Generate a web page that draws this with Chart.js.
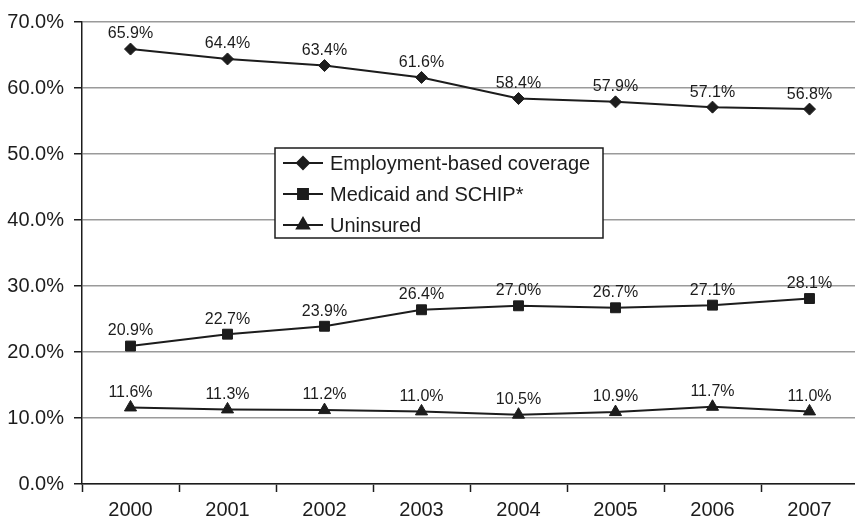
<!DOCTYPE html>
<html>
<head>
<meta charset="utf-8">
<script src="https://cdn.jsdelivr.net/npm/chart.js@4/dist/chart.umd.min.js"></script>
<style>
  html, body { margin: 0; padding: 0; background: #fff; overflow: hidden; }
  #wrap { width: 866px; height: 521px; position: relative; }
</style>
</head>
<body>
<div id="wrap"><canvas id="coverageChart"></canvas></div>
<script>
// chart values
const years = ['2000', '2001', '2002', '2003', '2004', '2005', '2006', '2007'];
const employmentBased = [65.9, 64.4, 63.4, 61.6, 58.4, 57.9, 57.1, 56.8];
const medicaidSchip = [20.9, 22.7, 23.9, 26.4, 27.0, 26.7, 27.1, 28.1];
const uninsured = [11.6, 11.3, 11.2, 11.0, 10.5, 10.9, 11.7, 11.0];
const seriesNames = ['Employment-based coverage', 'Medicaid and SCHIP*', 'Uninsured'];
const yTicks = [0, 10, 20, 30, 40, 50, 60, 70];

const ink = '#1c1c1c';
const fontFamily = '"Liberation Sans", Arial, Helvetica, sans-serif';

function makeSeries(label, data, shape, radius) {
  return {
    label: label,
    data: data,
    borderColor: ink,
    backgroundColor: ink,
    borderWidth: 2,
    pointStyle: shape,
    pointRadius: radius,
    pointHoverRadius: radius,
    pointBorderWidth: 1,
    tension: 0
  };
}

// value labels above each point
const valueLabels = {
  id: 'valueLabels',
  afterDatasetsDraw(chart) {
    const ctx = chart.ctx;
    ctx.save();
    ctx.font = '16px ' + fontFamily;
    ctx.fillStyle = ink;
    ctx.textAlign = 'center';
    ctx.textBaseline = 'middle';
    chart.data.datasets.forEach((ds, i) => {
      chart.getDatasetMeta(i).data.forEach((pt, j) => {
        ctx.fillText(ds.data[j].toFixed(1) + '%', pt.x, pt.y - 15);
      });
    });
    ctx.restore();
  }
};

// boxed legend sitting inside the plot
const boxLegend = {
  id: 'boxLegend',
  afterDatasetsDraw(chart) {
    const ctx = chart.ctx;
    const left = 275, top = 148, w = 328, h = 90;
    ctx.save();
    ctx.fillStyle = '#fff';
    ctx.fillRect(left, top, w, h);
    ctx.strokeStyle = ink;
    ctx.lineWidth = 1.5;
    ctx.strokeRect(left, top, w, h);
    ctx.font = '20px ' + fontFamily;
    ctx.textBaseline = 'middle';
    ctx.textAlign = 'left';
    chart.data.datasets.forEach((ds, i) => {
      const y = top + 15 + i * 31;
      ctx.strokeStyle = ink;
      ctx.lineWidth = 2;
      ctx.beginPath();
      ctx.moveTo(left + 8, y);
      ctx.lineTo(left + 48, y);
      ctx.stroke();
      ctx.fillStyle = ink;
      Chart.helpers.drawPoint(ctx, {
        pointStyle: ds.pointStyle,
        radius: ds.pointRadius,
        borderWidth: 1
      }, left + 28, y);
      ctx.fillStyle = ink;
      ctx.fillText(ds.label, left + 55, y + 1);
    });
    ctx.restore();
  }
};

new Chart(document.getElementById('coverageChart'), {
  type: 'line',
  data: {
    labels: years,
    datasets: [
      makeSeries(seriesNames[0], employmentBased, 'rectRot', 6),
      makeSeries(seriesNames[1], medicaidSchip, 'rect', 7),
      makeSeries(seriesNames[2], uninsured, 'triangle', 7)
    ]
  },
  options: {
    responsive: true,
    maintainAspectRatio: false,
    animation: false,
    layout: { padding: { top: 17, right: 2, bottom: 0, left: 0 } },
    plugins: {
      legend: { display: false },
      tooltip: { enabled: false }
    },
    scales: {
      x: {
        offset: true,
        grid: {
          offset: true,
          drawOnChartArea: false,
          tickLength: 8,
          tickColor: ink,
          tickWidth: 1.5
        },
        border: { color: ink, width: 1.5 },
        ticks: {
          color: ink,
          font: { family: fontFamily, size: 20 },
          padding: 6,
          maxRotation: 0
        },
        afterFit(scale) { scale.height = 37; }
      },
      y: {
        min: yTicks[0],
        max: yTicks[yTicks.length - 1],
        afterBuildTicks(scale) {
          scale.ticks = yTicks.map(v => ({ value: v }));
        },
        grid: {
          color: '#9a9a9a',
          lineWidth: 1.5,
          tickLength: 8,
          tickColor: ink,
          tickWidth: 1.5
        },
        border: { color: ink, width: 1.5 },
        ticks: {
          color: ink,
          font: { family: fontFamily, size: 20 },
          padding: 10,
          callback: v => v.toFixed(1) + '%'
        },
        afterFit(scale) { scale.width = 82; }
      }
    }
  },
  plugins: [valueLabels, boxLegend]
});
</script>
</body>
</html>
